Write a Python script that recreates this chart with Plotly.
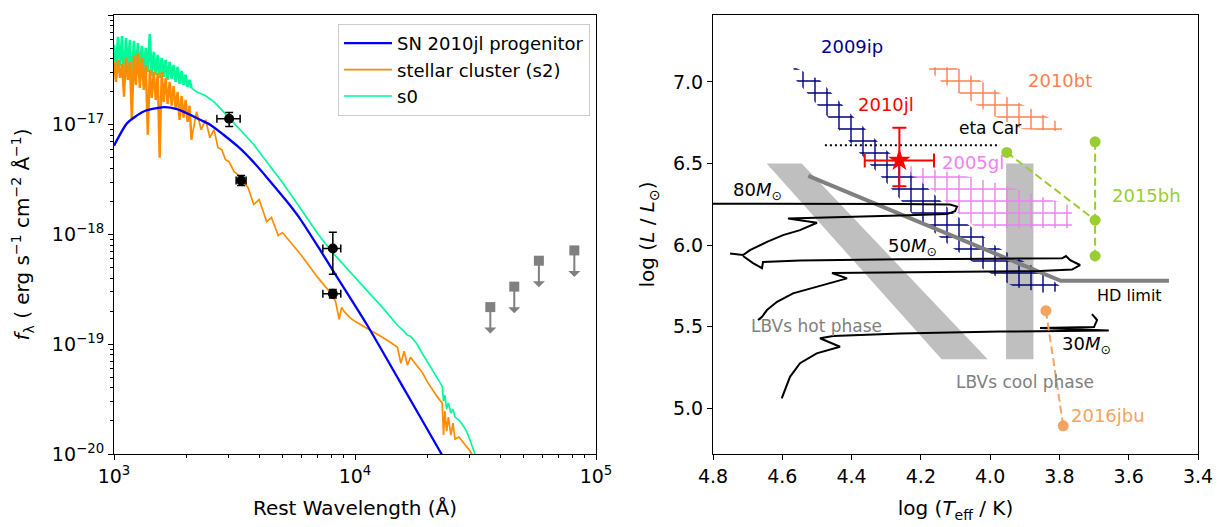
import numpy as np
import plotly.graph_objects as go

FONT = "DejaVu Sans"

# ======================= Left panel : SED =======================
uv_wave = [1000, 1019, 1039, 1059, 1079, 1100, 1121, 1142, 1164, 1186,
           1209, 1232, 1256, 1280, 1304, 1329, 1355, 1381, 1407, 1434,
           1462, 1490, 1518, 1547, 1577, 1607, 1638, 1669, 1701, 1734,
           1767, 1801, 1836, 1871, 1907, 1943, 1981, 2019, 2057, 2097]
s0_uv_logflux = [-16.273, -16.5, -16.2, -16.464, -16.191, -16.609, -16.209, -16.482, -16.227, -16.664,
                 -16.236, -16.518, -16.255, -16.5, -16.282, -16.536, -16.3, -16.518, -16.173, -16.555,
                 -16.336, -16.545, -16.364, -16.573, -16.391, -16.564, -16.409, -16.591, -16.427, -16.582,
                 -16.455, -16.609, -16.473, -16.627, -16.509, -16.636, -16.545, -16.655, -16.591, -16.664]
s2_uv_logflux = [-16.427, -16.609, -16.409, -16.573, -16.445, -16.745, -16.391, -16.591, -16.427, -16.955,
                 -16.373, -16.636, -16.345, -16.664, -16.391, -16.682, -16.455, -17.091, -16.5, -16.755,
                 -16.518, -16.773, -16.527, -17.3, -16.518, -16.791, -16.573, -16.809, -16.609, -16.827,
                 -16.645, -16.845, -16.7, -16.955, -16.736, -16.936, -16.773, -16.973, -16.827, -17.136]
s0_red_wave = [2200, 2400, 2600, 2800, 3000, 3300, 3600, 3800, 4000, 4300,
               4500, 5000, 5500, 6000, 7000, 8000, 9000, 10000, 11000, 12000,
               13000, 14000, 15000, 16000, 16500, 17000, 18000, 19000, 20000, 21000,
               22000, 23000, 23300, 23600, 24000, 24400, 25000, 25500, 26000, 27000,
               28000, 29000, 30000, 31000, 32000]
s0_red_logflux = [-16.7, -16.736, -16.791, -16.864, -16.936, -17.027, -17.127, -17.18, -17.245, -17.336,
                  -17.391, -17.527, -17.655, -17.773, -17.991, -18.155, -18.282, -18.391, -18.491, -18.582,
                  -18.664, -18.745, -18.827, -18.882, -18.918, -18.927, -18.991, -19.082, -19.164, -19.245,
                  -19.318, -19.382, -19.518, -19.464, -19.591, -19.536, -19.627, -19.591, -19.664, -19.691,
                  -19.736, -19.791, -19.873, -19.955, -20.045]
s2_red_wave = [2200, 2300, 2400, 2500, 2600, 2700, 2800, 2900, 3000, 3150,
               3300, 3600, 3800, 4000, 4300, 4500, 4800, 5000, 5500, 6000,
               7000, 8000, 8300, 8600, 8800, 9000, 9500, 10000, 11000, 12000,
               13000, 14000, 15000, 15500, 16000, 16500, 17000, 18000, 19000, 20000,
               21000, 22000, 23000, 23300, 23600, 24000, 24400, 25000, 25500, 26000,
               27000, 28000, 29000, 30000, 31000]
s2_red_logflux = [-16.882, -17.045, -16.955, -17.118, -17.045, -17.209, -17.227, -17.318, -17.336, -17.427,
                  -17.464, -17.573, -17.727, -17.682, -17.882, -17.845, -18.009, -17.982, -18.091, -18.191,
                  -18.391, -18.545, -18.609, -18.773, -18.664, -18.7, -18.755, -18.791, -18.845, -18.891,
                  -18.936, -18.982, -19.027, -19.173, -19.064, -19.191, -19.118, -19.191, -19.255, -19.345,
                  -19.418, -19.482, -19.536, -19.827, -19.609, -19.791, -19.664, -19.827, -19.718, -19.864,
                  -19.845, -19.891, -19.927, -19.973, -20.027]
prog_wave = [1000, 1134, 1328, 1607, 1825, 2072, 2279, 2507, 2846, 3273,
             3776, 4315, 5220, 5908, 7145, 8090, 11180, 15310, 21990, 23730]
prog_logflux = [-17.191, -16.985, -16.879, -16.839, -16.857, -16.909, -16.955, -17.0, -17.091, -17.2,
                -17.336, -17.482, -17.7, -17.855, -18.136, -18.327, -18.818, -19.336, -19.936, -20.064]

phot_wave = [3005, 3369, 8091, 8091]
phot_flux = [1.135e-17, 3.10e-18, 7.46e-19, 2.89e-19]
phot_wave_minus = [332, 157, 735, 735]
phot_wave_plus = [332, 163, 639, 639]
phot_flux_plus = [1.59e-18, 3.4e-19, 3.04e-19, 2.7e-20]
phot_flux_minus = [1.69e-18, 3.1e-19, 3.11e-19, 2.5e-20]

ulim_wave = [36430, 45800, 57940, 81300]
ulim_flux = [2.18e-19, 3.35e-19, 5.77e-19, 7.16e-19]

# ======================= Right panel : HRD =======================
hot_T = [4.645, 4.544, 4.007, 4.14]
hot_L = [6.5, 6.5, 5.3, 5.3]
cool_T = [3.954, 3.875]
cool_L = [5.3, 6.5]
hd_T = [4.525, 3.796, 3.484]
hd_L = [6.424, 5.781, 5.781]
eta_T = [4.477, 3.9715]
eta_L = [6.612, 6.612]

ip09_T = [4.569, 4.491, 4.4045, 4.309, 4.2024, 4.107, 3.980, 3.856, 3.784,
          3.840, 3.930, 4.016, 4.112, 4.227, 4.305, 4.392, 4.478, 4.560]
ip09_L = [7.096, 7.010, 6.808, 6.600, 6.398, 6.196, 5.988, 5.847, 5.724,
          5.706, 5.743, 5.847, 5.988, 6.196, 6.398, 6.600, 6.808, 7.010]
bt10_T = [4.176, 4.101, 4.029, 3.957, 3.862, 3.7925, 3.7925, 3.905, 4.000, 4.067, 4.139, 4.176]
bt10_L = [7.090, 7.090, 7.010, 6.912, 6.814, 6.741, 6.698, 6.710, 6.802, 6.900, 6.998, 7.072]
gl05_T = [4.231, 4.130, 3.972, 3.856, 3.764, 3.764, 4.038, 4.096, 4.159, 4.231]
gl05_L = [6.484, 6.453, 6.374, 6.300, 6.239, 6.104, 6.104, 6.202, 6.325, 6.429]

trk80_T = [4.823, 4.5488, 4.2602, 4.1158, 4.0956, 4.1014, 4.1245, 4.2602, 4.4045, 4.5835,
           4.4998, 4.5488, 4.5979, 4.6441, 4.6932, 4.7134, 4.7509]
trk80_L = [6.254, 6.254, 6.252, 6.249, 6.236, 6.208, 6.190, 6.181, 6.173, 6.163,
           6.137, 6.092, 6.061, 6.020, 5.969, 5.939, 5.949]
trk50_T = [4.7134, 4.6845, 4.6585, 4.6557, 4.5488, 4.2602, 3.9715, 3.7925, 3.781, 3.769,
           3.7405, 3.7636, 3.856, 4.2024, 4.4565, 4.4132, 4.4536, 4.4998, 4.569, 4.6152,
           4.6441, 4.6585, 4.670, 4.6614]
trk50_L = [5.933, 5.890, 5.859, 5.896, 5.905, 5.914, 5.917, 5.919, 5.933, 5.908,
           5.878, 5.850, 5.841, 5.832, 5.829, 5.796, 5.773, 5.745, 5.704, 5.653,
           5.602, 5.561, 5.541, 5.553]
trk30_T = [4.6016, 4.5921, 4.5777, 4.5488, 4.5006, 4.4334, 4.4911, 4.4527, 4.2602, 3.9715,
           3.6574, 3.856, 3.7001, 3.6914, 3.7059]
trk30_L = [5.061, 5.112, 5.193, 5.276, 5.337, 5.377, 5.429, 5.443, 5.458, 5.470,
           5.476, 5.492, 5.498, 5.541, 5.577]

jl10_T = [4.262]
jl10_L = [6.519]
jl10_T_err = [0.1]
jl10_L_err_plus = [0.2]
jl10_L_err_minus = [0.158]

bh15_T = [3.952, 3.697, 3.697, 3.697]
bh15_L = [6.568, 6.633, 6.153, 5.934]
jbu16_T = [3.839, 3.789]
jbu16_L = [5.598, 4.893]

sn_labels = ["2009ip", "2010bt", "2010jl", "eta Car", "2005gl", "2015bh", "2016jbu"]
sn_label_T = [4.40, 3.798, 4.30, 4.0, 4.049, 3.548, 3.66]
sn_label_L = [7.214, 7.008, 6.859, 6.717, 6.505, 6.305, 4.955]
sn_label_colors = ["darkblue", "coral", "red", "black", "violet", "yellowgreen", "sandybrown"]
sn_label_sizes = [18, 18, 18, 17, 18, 18, 18]

trk_labels = ["80<i>M</i><sub>⊙</sub>", "50<i>M</i><sub>⊙</sub>", "30<i>M</i><sub>⊙</sub>"]
trk_label_T = [4.673, 4.2255, 3.723]
trk_label_L = [6.333, 5.989, 5.385]

misc_labels = ["HD limit", "LBVs hot phase", "LBVs cool phase"]
misc_label_T = [3.599, 4.50, 3.899]
misc_label_L = [5.693, 5.503, 5.159]
misc_label_colors = ["black", "gray", "gray"]
misc_label_sizes = [16, 17, 17]

# ======================= Figure =======================
# the page body has an 8 px margin, so the figure is laid out in
# page coordinates minus 8 px
W, H, OFF = 1218, 519, 8


def fx(px):
    return (px - OFF) / W


def fy(py):
    return 1 - (py - OFF) / H


fig = go.Figure()

s0_uv_flux = 10 ** np.array(s0_uv_logflux)
s2_uv_flux = 10 ** np.array(s2_uv_logflux)
s0_red_flux = 10 ** np.array(s0_red_logflux)
s2_red_flux = 10 ** np.array(s2_red_logflux)
prog_flux = 10 ** np.array(prog_logflux)

GREEN = "mediumspringgreen"
ORANGE = "darkorange"

fig.add_trace(go.Scatter(x=uv_wave, y=s0_uv_flux, mode="lines", showlegend=False,
                         line=dict(color=GREEN, width=2.6), hoverinfo="skip",
                         xaxis="x", yaxis="y"))
fig.add_trace(go.Scatter(x=uv_wave[-1:] + s0_red_wave, y=np.r_[s0_uv_flux[-1:], s0_red_flux],
                         mode="lines", name="s0",
                         line=dict(color=GREEN, width=1.7), legendrank=3,
                         xaxis="x", yaxis="y"))
fig.add_trace(go.Scatter(x=uv_wave, y=s2_uv_flux, mode="lines", showlegend=False,
                         line=dict(color=ORANGE, width=2.4), hoverinfo="skip",
                         xaxis="x", yaxis="y"))
fig.add_trace(go.Scatter(x=uv_wave[-1:] + s2_red_wave, y=np.r_[s2_uv_flux[-1:], s2_red_flux],
                         mode="lines", name="stellar cluster (s2)",
                         line=dict(color=ORANGE, width=1.7), legendrank=2,
                         xaxis="x", yaxis="y"))
fig.add_trace(go.Scatter(x=prog_wave, y=prog_flux, mode="lines", name="SN 2010jl progenitor",
                         line=dict(color="blue", width=2.3, shape="spline", smoothing=0.6),
                         legendrank=1, xaxis="x", yaxis="y"))
fig.add_trace(go.Scatter(x=phot_wave, y=phot_flux, mode="markers", showlegend=False,
                         marker=dict(color="black", size=10),
                         error_x=dict(type="data", symmetric=False, array=phot_wave_plus,
                                      arrayminus=phot_wave_minus, color="black", thickness=1.5, width=4),
                         error_y=dict(type="data", symmetric=False, array=phot_flux_plus,
                                      arrayminus=phot_flux_minus, color="black", thickness=1.5, width=4),
                         xaxis="x", yaxis="y"))
fig.add_trace(go.Scatter(x=ulim_wave, y=ulim_flux, mode="markers", showlegend=False,
                         marker=dict(color="gray", size=10, symbol="square"),
                         xaxis="x", yaxis="y"))

annotations = []
for w, f in zip(ulim_wave, ulim_flux):
    annotations.append(dict(x=np.log10(w), y=np.log10(f), xref="x", yref="y", text="",
                            showarrow=True, ax=0, ay=28, arrowside="start", arrowhead=2,
                            arrowsize=1.0, arrowwidth=2, arrowcolor="gray",
                            standoff=0, startstandoff=0))

# ---- right panel traces ----
fig.add_trace(go.Scatter(x=hot_T, y=hot_L, fill="toself", fillcolor="#bfbfbf", mode="lines",
                         line=dict(width=0), showlegend=False, hoverinfo="skip",
                         xaxis="x2", yaxis="y2"))
fig.add_trace(go.Scatter(x=[cool_T[0], cool_T[1], cool_T[1], cool_T[0]],
                         y=[cool_L[0], cool_L[0], cool_L[1], cool_L[1]],
                         fill="toself", fillcolor="#bfbfbf", mode="lines",
                         line=dict(width=0), showlegend=False, hoverinfo="skip",
                         xaxis="x2", yaxis="y2"))

for T, L, col in [(ip09_T, ip09_L, "navy"), (bt10_T, bt10_L, "coral"), (gl05_T, gl05_L, "violet")]:
    fig.add_trace(go.Scatter(x=T, y=L, fill="toself", mode="lines", line=dict(width=0),
                             fillcolor="rgba(0,0,0,0)",
                             fillpattern=dict(shape="+", fgcolor=col, bgcolor="rgba(0,0,0,0)",
                                              fgopacity=1, size=12, solidity=0.22),
                             showlegend=False, hoverinfo="skip", xaxis="x2", yaxis="y2"))

fig.add_trace(go.Scatter(x=hd_T, y=hd_L, mode="lines", line=dict(color="gray", width=4),
                         showlegend=False, xaxis="x2", yaxis="y2"))
fig.add_trace(go.Scatter(x=eta_T, y=eta_L, mode="lines", line=dict(color="black", width=2, dash="2px,3px"),
                         showlegend=False, xaxis="x2", yaxis="y2"))
for T, L in [(trk80_T, trk80_L), (trk50_T, trk50_L), (trk30_T, trk30_L)]:
    fig.add_trace(go.Scatter(x=T, y=L, mode="lines", line=dict(color="black", width=2),
                             showlegend=False, xaxis="x2", yaxis="y2"))

fig.add_trace(go.Scatter(x=[bh15_T[0], bh15_T[2]], y=[bh15_L[0], bh15_L[2]], mode="lines",
                         line=dict(color="yellowgreen", width=2, dash="8px,4px"),
                         showlegend=False, xaxis="x2", yaxis="y2"))
fig.add_trace(go.Scatter(x=[bh15_T[1], bh15_T[3]], y=[bh15_L[1], bh15_L[3]], mode="lines",
                         line=dict(color="yellowgreen", width=2, dash="8px,4px"),
                         showlegend=False, xaxis="x2", yaxis="y2"))
fig.add_trace(go.Scatter(x=bh15_T, y=bh15_L, mode="markers", marker=dict(color="yellowgreen", size=11),
                         showlegend=False, xaxis="x2", yaxis="y2"))
fig.add_trace(go.Scatter(x=jbu16_T, y=jbu16_L, mode="lines+markers",
                         line=dict(color="sandybrown", width=2, dash="8px,4px"),
                         marker=dict(color="sandybrown", size=11),
                         showlegend=False, xaxis="x2", yaxis="y2"))
fig.add_trace(go.Scatter(x=jl10_T, y=jl10_L, mode="markers",
                         marker=dict(color="red", size=17, symbol="star"),
                         error_x=dict(type="data", array=jl10_T_err, color="red", thickness=2, width=7),
                         error_y=dict(type="data", symmetric=False, array=jl10_L_err_plus,
                                      arrayminus=jl10_L_err_minus, color="red", thickness=2, width=7),
                         showlegend=False, xaxis="x2", yaxis="y2"))

for t, T, L, c, s in zip(sn_labels, sn_label_T, sn_label_L, sn_label_colors, sn_label_sizes):
    annotations.append(dict(x=T, y=L, xref="x2", yref="y2", text=t, showarrow=False,
                            font=dict(family=FONT, size=s, color=c)))
for t, T, L in zip(trk_labels, trk_label_T, trk_label_L):
    annotations.append(dict(x=T, y=L, xref="x2", yref="y2", text=t, showarrow=False,
                            font=dict(family=FONT, size=18, color="black")))
for t, T, L, c, s in zip(misc_labels, misc_label_T, misc_label_L, misc_label_colors, misc_label_sizes):
    annotations.append(dict(x=T, y=L, xref="x2", yref="y2", text=t, showarrow=False,
                            font=dict(family=FONT, size=s, color=c)))

axis_common = dict(showline=True, linecolor="black", linewidth=1.2, mirror=True,
                   ticks="outside", ticklen=5, tickwidth=1.2, tickcolor="black",
                   showgrid=False, zeroline=False, automargin=False,
                   tickfont=dict(family=FONT, size=19, color="black"))

minor_x = [m * 10 ** e for e in (3, 4) for m in range(2, 10)]
minor_y = [m * 10.0 ** e for e in (-20, -19, -18, -17) for m in range(2, 10)]

fig.update_layout(
    width=W, height=H, margin=dict(l=0, r=0, t=0, b=0, autoexpand=False),
    paper_bgcolor="white", plot_bgcolor="white",
    font=dict(family=FONT, size=19, color="black"),
    showlegend=True,
    legend=dict(x=fx(590), xanchor="right", y=fy(24), yanchor="top",
                bgcolor="rgba(255,255,255,0.8)", bordercolor="#cccccc", borderwidth=1,
                font=dict(family=FONT, size=18, color="black"), tracegroupgap=4,
                itemwidth=48),
    xaxis=dict(domain=[fx(114), fx(596)], type="log", range=[3, 5], anchor="y",
               tickvals=[1e3, 1e4, 1e5],
               ticktext=["10<sup>3</sup>", "10<sup>4</sup>", "10<sup>5</sup>"],
               minor=dict(ticks="outside", ticklen=3, tickwidth=1, tickcolor="black", tickvals=minor_x),
               title=dict(text="Rest Wavelength (Å)", font=dict(family=FONT, size=20), standoff=15),
               **axis_common),
    yaxis=dict(domain=[fy(454), fy(15)], type="log", range=[-20, -16], anchor="x",
               tickvals=[1e-20, 1e-19, 1e-18, 1e-17, 1e-16],
               ticktext=["10<sup>−20</sup>", "10<sup>−19</sup>", "10<sup>−18</sup>",
                         "10<sup>−17</sup>", "10<sup>−16</sup>"],
               minor=dict(ticks="outside", ticklen=3, tickwidth=1, tickcolor="black", tickvals=minor_y),
               title=dict(text="<i>f</i><sub>λ</sub> ( erg s<sup>−1</sup> cm<sup>−2</sup> Å<sup>−1</sup>)",
                          font=dict(family=FONT, size=20), standoff=16),
               **axis_common),
    xaxis2=dict(domain=[fx(713), fx(1198)], range=[4.8, 3.4], anchor="y2",
                tickvals=[4.8, 4.6, 4.4, 4.2, 4.0, 3.8, 3.6, 3.4],
                ticktext=["4.8", "4.6", "4.4", "4.2", "4.0", "3.8", "3.6", "3.4"],
                title=dict(text="log (<i>T</i><sub>eff</sub> / K)", font=dict(family=FONT, size=20), standoff=15),
                **axis_common),
    yaxis2=dict(domain=[fy(454), fy(15)], range=[4.72, 7.41], anchor="x2",
                tickvals=[5.0, 5.5, 6.0, 6.5, 7.0],
                ticktext=["5.0", "5.5", "6.0", "6.5", "7.0"],
                title=dict(text="log (<i>L</i> / <i>L</i><sub>⊙</sub>)", font=dict(family=FONT, size=20), standoff=12),
                **axis_common),
    annotations=annotations,
)

fig.write_html("out.html")
